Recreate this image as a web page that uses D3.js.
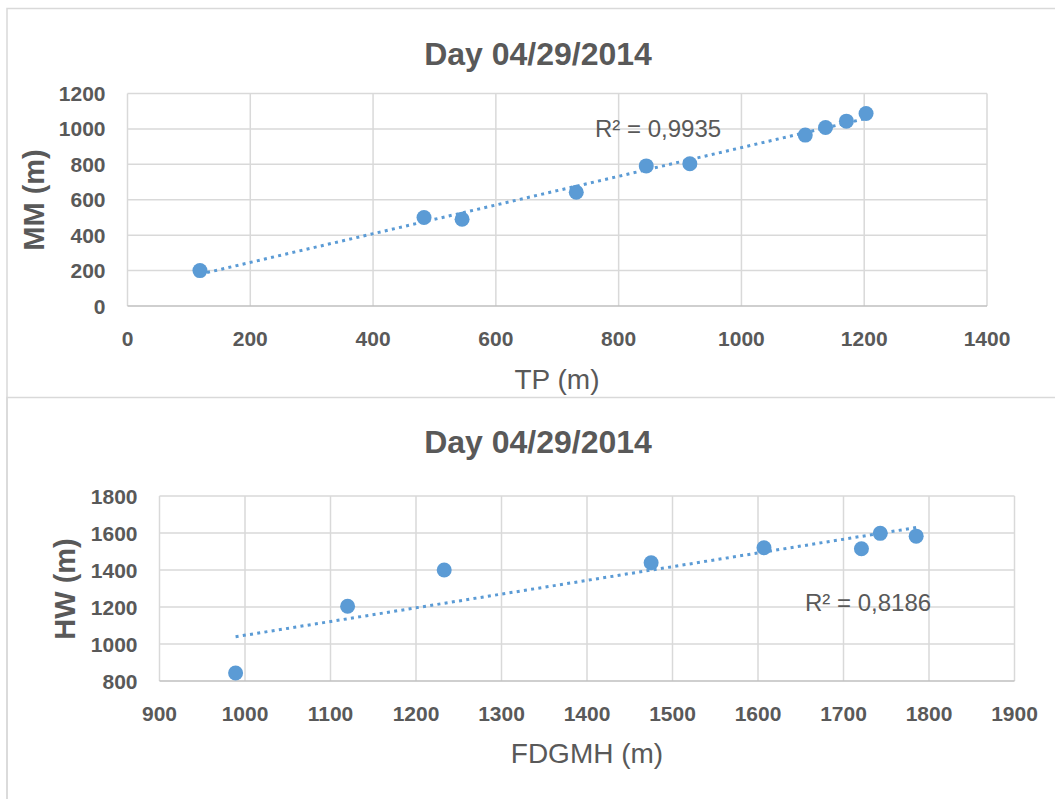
<!DOCTYPE html>
<html>
<head>
<meta charset="utf-8">
<script src="https://cdn.jsdelivr.net/npm/d3@7"></script>
<style>
  body { margin: 0; background: #fff; }
  svg { display: block; }
  text { font-family: "Liberation Sans", Arial, sans-serif; fill: #595959; }
</style>
</head>
<body>
<script>
// chart 1 : TP vs MM
var tpValues = [118, 483, 545, 731, 845, 916, 1104, 1137, 1171, 1203];
var mmValues = [200, 500, 490, 642, 791, 803, 965, 1008, 1044, 1087];
var tpTicks = [0, 200, 400, 600, 800, 1000, 1200, 1400];
var mmTicks = [0, 200, 400, 600, 800, 1000, 1200];

// chart 2 : FDGMH vs HW
var fdgmhValues = [989, 1120, 1233, 1475, 1607, 1721, 1743, 1785];
var hwValues = [843, 1204, 1400, 1439, 1520, 1515, 1598, 1583];
var fdgmhTicks = [900, 1000, 1100, 1200, 1300, 1400, 1500, 1600, 1700, 1800, 1900];
var hwTicks = [800, 1000, 1200, 1400, 1600, 1800];

var chartTitle = "Day 04/29/2014";
var r2Labels = ["R² = 0,9935", "R² = 0,8186"];

var width = 1055,
    height = 799;

var svg = d3.select("body").append("svg")
    .attr("width", width)
    .attr("height", height);

// chart frames
svg.append("path")
    .attr("d", "M7,799 V8.5 H1055")
    .attr("fill", "none")
    .attr("stroke", "#d9d9d9")
    .attr("stroke-width", 1.5);
svg.append("path")
    .attr("d", "M7,799 V397.5 H1055")
    .attr("fill", "none")
    .attr("stroke", "#d9d9d9")
    .attr("stroke-width", 1.5);

function linearFit(xs, ys) {
  var mx = d3.mean(xs), my = d3.mean(ys);
  var num = d3.sum(xs, function(d, i) { return (d - mx) * (ys[i] - my); });
  var den = d3.sum(xs, function(d) { return (d - mx) * (d - mx); });
  var slope = num / den;
  return function(x) { return my + slope * (x - mx); };
}

function drawChart(c) {
  var x = d3.scaleLinear().domain(d3.extent(c.xTicks)).range([c.left, c.right]);
  var y = d3.scaleLinear().domain(d3.extent(c.yTicks)).range([c.bottom, c.top]);

  var g = svg.append("g");

  g.append("text")
      .attr("x", 538)
      .attr("y", c.titleY)
      .attr("text-anchor", "middle")
      .style("font-size", "32px")
      .style("font-weight", "bold")
      .text(chartTitle);

  // grid
  g.selectAll(".vgrid")
      .data(c.xTicks)
    .enter().append("line")
      .attr("x1", function(d) { return x(d); })
      .attr("x2", function(d) { return x(d); })
      .attr("y1", c.top)
      .attr("y2", c.bottom)
      .attr("stroke", "#d9d9d9")
      .attr("stroke-width", 1.5);

  g.selectAll(".hgrid")
      .data(c.yTicks)
    .enter().append("line")
      .attr("x1", c.left)
      .attr("x2", c.right)
      .attr("y1", function(d) { return y(d); })
      .attr("y2", function(d) { return y(d); })
      .attr("stroke", function(d, i) { return i == 0 ? "#bfbfbf" : "#d9d9d9"; })
      .attr("stroke-width", 1.5);

  // tick labels
  g.selectAll(".ylab")
      .data(c.yTicks)
    .enter().append("text")
      .attr("x", c.left - 22)
      .attr("y", function(d) { return y(d); })
      .attr("dy", "0.36em")
      .attr("text-anchor", "end")
      .style("font-size", "21px")
      .style("font-weight", "bold")
      .text(function(d) { return d; });

  g.selectAll(".xlab")
      .data(c.xTicks)
    .enter().append("text")
      .attr("x", function(d) { return x(d); })
      .attr("y", c.bottom + 32)
      .attr("dy", "0.36em")
      .attr("text-anchor", "middle")
      .style("font-size", "21px")
      .style("font-weight", "bold")
      .text(function(d) { return d; });

  // axis titles
  g.append("text")
      .attr("x", c.xTitleX)
      .attr("y", c.xTitleY)
      .attr("text-anchor", "middle")
      .style("font-size", "28px")
      .text(c.xTitle);

  g.append("text")
      .attr("transform", "translate(" + c.yTitleX + "," + c.yTitleY + ") rotate(-90)")
      .attr("text-anchor", "middle")
      .style("font-size", "29px")
      .style("font-weight", "bold")
      .text(c.yTitle);

  // trendline
  var fit = linearFit(c.xs, c.ys);
  var ext = d3.extent(c.xs);
  g.append("line")
      .attr("x1", x(ext[0]))
      .attr("y1", y(fit(ext[0])))
      .attr("x2", x(ext[1]))
      .attr("y2", y(fit(ext[1])))
      .attr("stroke", "#5b9bd5")
      .attr("stroke-width", 3)
      .attr("stroke-dasharray", "3,4.3");

  g.selectAll(".dot")
      .data(c.xs)
    .enter().append("circle")
      .attr("cx", function(d) { return x(d); })
      .attr("cy", function(d, i) { return y(c.ys[i]); })
      .attr("r", 7.5)
      .attr("fill", "#5b9bd5");

  g.append("text")
      .attr("x", c.r2X)
      .attr("y", c.r2Y)
      .style("font-size", "24px")
      .text(c.r2);
}

drawChart({
  xs: tpValues, ys: mmValues, xTicks: tpTicks, yTicks: mmTicks,
  left: 127.5, right: 987, top: 93.5, bottom: 306,
  titleY: 65, xTitle: "TP (m)", xTitleX: 557, xTitleY: 389,
  yTitle: "MM (m)", yTitleX: 44, yTitleY: 200,
  r2: r2Labels[0], r2X: 595, r2Y: 137
});

drawChart({
  xs: fdgmhValues, ys: hwValues, xTicks: fdgmhTicks, yTicks: hwTicks,
  left: 159.5, right: 1014.5, top: 496, bottom: 681,
  titleY: 453, xTitle: "FDGMH (m)", xTitleX: 587, xTitleY: 763,
  yTitle: "HW (m)", yTitleX: 75, yTitleY: 589,
  r2: r2Labels[1], r2X: 805, r2Y: 611
});
</script>
</body>
</html>
